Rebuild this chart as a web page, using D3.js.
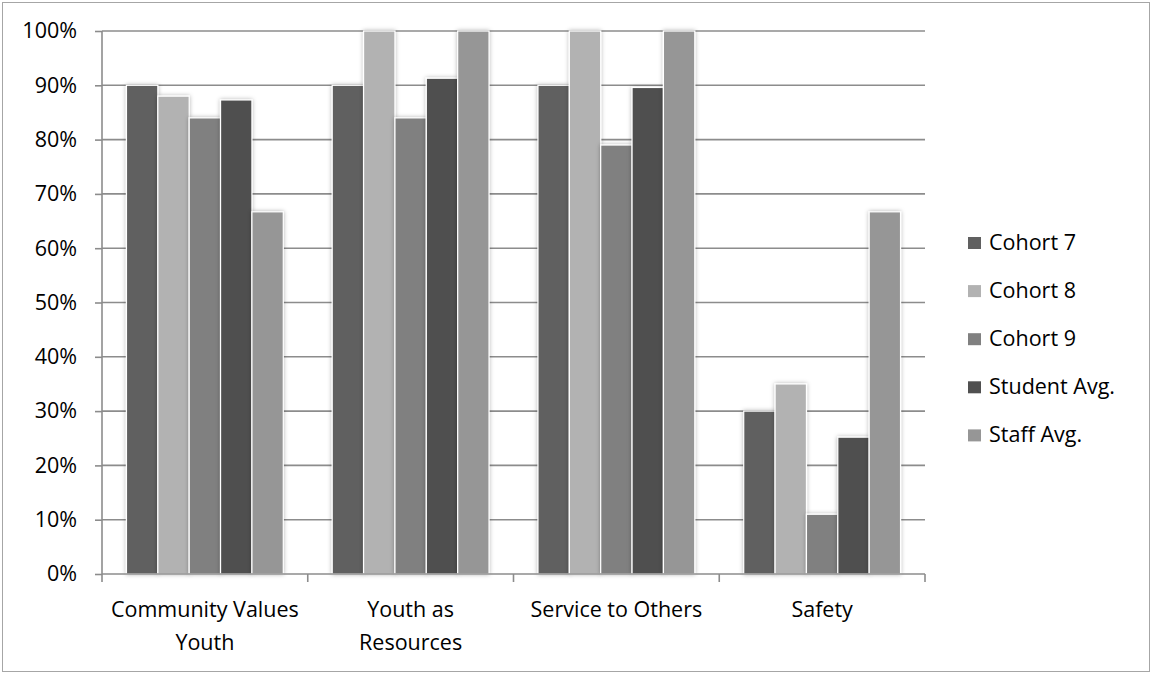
<!DOCTYPE html>
<html>
<head>
<meta charset="utf-8">
<script src="https://cdn.jsdelivr.net/npm/d3@7"></script>
<style>
  body { margin: 0; background: #fff; }
  text { font-family: "Open Sans", Lato, sans-serif; fill: #000; }
</style>
</head>
<body>
<div id="chart"></div>
<script>
// chart data
var categories = [["Community Values", "Youth"], ["Youth as", "Resources"], ["Service to Others"], ["Safety"]]
var seriesNames = ["Cohort 7", "Cohort 8", "Cohort 9", "Student Avg.", "Staff Avg."]
var seriesColors = ["#606060", "#b2b2b2", "#808080", "#505050", "#969696"]
var cohort7 = [0.90, 0.90, 0.90, 0.30]
var cohort8 = [0.88, 1.00, 1.00, 0.35]
var cohort9 = [0.84, 0.84, 0.79, 0.11]
var studentAvg = [0.873, 0.913, 0.896, 0.252]
var staffAvg = [0.667, 1.00, 1.00, 0.667]
var yTicks = [0, 0.1, 0.2, 0.3, 0.4, 0.5, 0.6, 0.7, 0.8, 0.9, 1.0]

var seriesValues = [cohort7, cohort8, cohort9, studentAvg, staffAvg]

var W = 1152, H = 673
var margin = { top: 31, left: 102, right: 227, bottom: 99 }
var width = W - margin.left - margin.right
var height = H - margin.top - margin.bottom
var fontSize = "21.5px"

var svg = d3.select("#chart").append("svg")
    .attr("width", W)
    .attr("height", H)

// soft shadow like the office chart
var defs = svg.append("defs")
var f = defs.append("filter").attr("id", "shadow")
    .attr("x", "-30%").attr("y", "-10%").attr("width", "160%").attr("height", "120%")
f.append("feDropShadow")
    .attr("dx", 0).attr("dy", 0).attr("stdDeviation", 2)
    .attr("flood-color", "#000").attr("flood-opacity", 0.3)

// outer frame
svg.append("rect")
    .attr("x", 2.5).attr("y", 2.5)
    .attr("width", W - 5).attr("height", H - 4)
    .attr("fill", "none").attr("stroke", "#a6a6a6").attr("stroke-width", 1)

var g = svg.append("g")
    .attr("transform", "translate(" + margin.left + "," + margin.top + ")")

var x0 = d3.scaleBand()
    .domain(d3.range(categories.length))
    .range([0, width])
    .paddingInner(0).paddingOuter(0)

var x1 = d3.scaleBand()
    .domain(d3.range(seriesNames.length))
    .range([0, x0.bandwidth()])
    .paddingInner(0)
    .paddingOuter(0.78)

var y = d3.scaleLinear()
    .domain([0, 1])
    .range([height, 0])

// gridlines
g.append("g").selectAll("line")
    .data(yTicks.slice(1))
  .enter().append("line")
    .attr("x1", 0).attr("x2", width)
    .attr("y1", function(d){ return y(d) })
    .attr("y2", function(d){ return y(d) })
    .attr("stroke", "#8c8c8c").attr("stroke-width", 1.6)

// y axis
var yAxis = d3.axisLeft(y)
    .tickValues(yTicks)
    .tickFormat(d3.format(".0%"))
    .tickSize(7)
    .tickPadding(18)
var ya = g.append("g").call(yAxis)
ya.select(".domain").attr("stroke", "#8c8c8c").attr("stroke-width", 1.6).attr("d", "M0," + height + "V0")
ya.selectAll(".tick line").attr("stroke", "#8c8c8c").attr("stroke-width", 1.6)
ya.selectAll(".tick text")
    .style("font-family", "'Open Sans', Lato, sans-serif")
    .style("font-size", fontSize).attr("fill", "#000")

// bars
var groups = g.selectAll(".cat")
    .data(categories)
  .enter().append("g")
    .attr("class", "cat")
    .attr("transform", function(d, i){ return "translate(" + x0(i) + ",0)" })

groups.selectAll("rect")
    .data(function(d, i){ return seriesValues.map(function(s, j){ return { s: j, v: s[i] } }) })
  .enter().append("rect")
    .attr("x", function(d){ return x1(d.s) })
    .attr("y", function(d){ return y(d.v) })
    .attr("width", x1.bandwidth())
    .attr("height", function(d){ return height - y(d.v) })
    .attr("fill", function(d){ return seriesColors[d.s] })
    .attr("stroke", "#fff").attr("stroke-width", 1.2)
    .attr("filter", "url(#shadow)")

// x axis
var xa = g.append("g").attr("transform", "translate(0," + height + ")")
xa.append("line")
    .attr("x1", 0).attr("x2", width)
    .attr("stroke", "#8c8c8c").attr("stroke-width", 1.6)
xa.selectAll(".xt")
    .data(d3.range(categories.length + 1))
  .enter().append("line")
    .attr("class", "xt")
    .attr("x1", function(i){ return i * x0.step() })
    .attr("x2", function(i){ return i * x0.step() })
    .attr("y1", 0).attr("y2", 8)
    .attr("stroke", "#8c8c8c").attr("stroke-width", 1.6)

var labels = xa.selectAll(".xl")
    .data(categories)
  .enter().append("text")
    .attr("class", "xl")
    .attr("text-anchor", "middle")
    .style("font-size", fontSize)
    .attr("transform", function(d, i){ return "translate(" + (x0(i) + x0.bandwidth() / 2) + ",0)" })
labels.selectAll("tspan")
    .data(function(d){ return d })
  .enter().append("tspan")
    .attr("x", 0)
    .attr("y", function(d, i){ return 43 + i * 33 })
    .text(function(d){ return d })

// legend
var legend = svg.append("g")
    .attr("transform", "translate(968,237)")
var items = legend.selectAll("g")
    .data(seriesNames)
  .enter().append("g")
    .attr("transform", function(d, i){ return "translate(0," + (i * 48.1) + ")" })
items.append("rect")
    .attr("width", 13).attr("height", 12)
    .attr("fill", function(d, i){ return seriesColors[i] })
items.append("text")
    .attr("x", 21).attr("y", 12.5)
    .style("font-size", fontSize)
    .text(function(d){ return d })
</script>
</body>
</html>
